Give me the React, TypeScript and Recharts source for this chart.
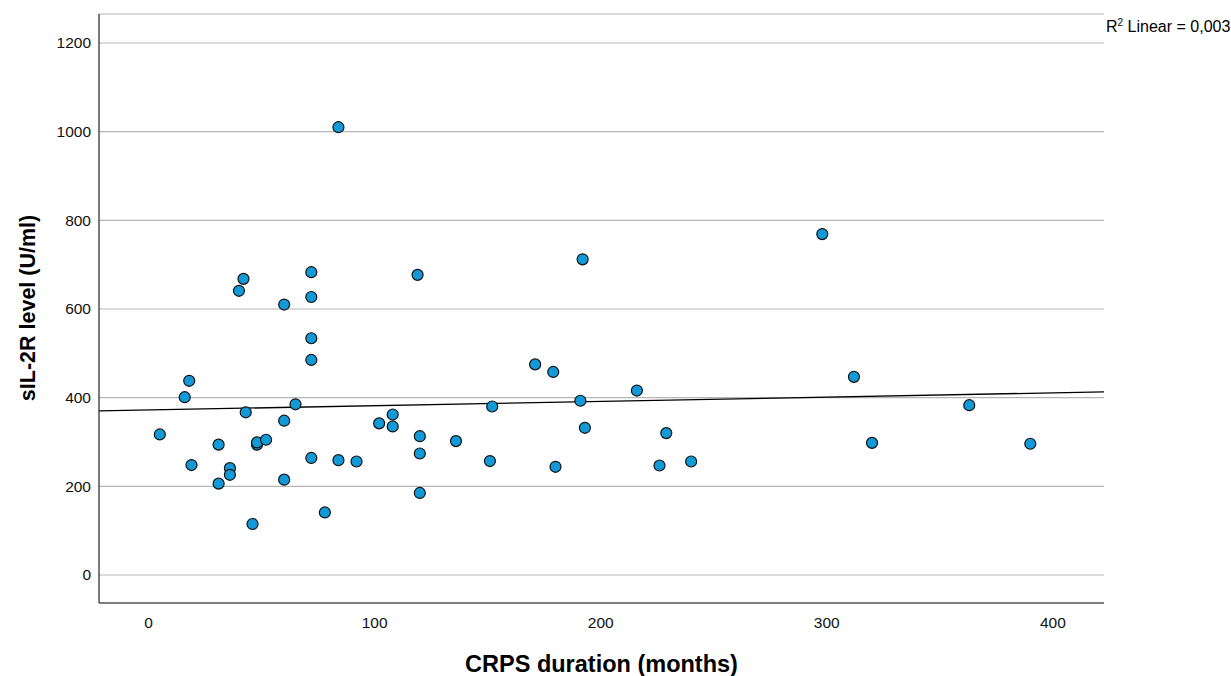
import React from "react";
import {
  ScatterChart,
  Scatter,
  XAxis,
  YAxis,
  CartesianGrid,
  ReferenceLine,
  Customized,
} from "recharts";

const durationMonths = [
  5, 16, 18, 19, 31, 31, 36, 36, 40, 42, 43, 46, 48, 48, 52, 60, 60, 60, 65,
  72, 72, 72, 72, 72, 78, 84, 84, 92, 102, 108, 108, 119, 120, 120, 120, 136,
  151, 152, 171, 179, 180, 191, 192, 193, 216, 226, 229, 240, 298, 312, 320,
  363, 390,
];
const sil2rLevel = [
  317, 401, 438, 248, 294, 206, 241, 226, 641, 668, 367, 115, 294, 299, 305,
  610, 348, 215, 385, 683, 627, 534, 485, 264, 141, 259, 1010, 256, 342, 362,
  335, 677, 313, 274, 185, 302, 257, 380, 475, 458, 244, 393, 712, 332, 416,
  247, 320, 256, 769, 447, 298, 383, 296,
];
const xTicks = [0, 100, 200, 300, 400];
const yTicks = [0, 200, 400, 600, 800, 1000, 1200];
const fitLine = [
  { x: -21.9, y: 370 },
  { x: 422.6, y: 413 },
];

const points = durationMonths.map((x, i) => ({ x, y: sil2rLevel[i] }));

const FONT = "'Liberation Sans', Arial, sans-serif";

const Dot = (props: any) => {
  const { cx, cy } = props;
  if (cx == null || cy == null) return null;
  return <circle cx={cx} cy={cy} r={5.5} fill="#1199d8" stroke="#111" strokeWidth={1.2} />;
};

const Titles = () => (
  <g fontFamily={FONT}>
    <text
      x={601.5}
      y={672}
      textAnchor="middle"
      fontSize={23.5}
      fontWeight="bold"
      fill="#000"
    >
      CRPS duration (months)
    </text>
    <text
      x={35}
      y={308}
      textAnchor="middle"
      fontSize={21.5}
      fontWeight="bold"
      fill="#000"
      transform="rotate(-90 35 308)"
    >
      sIL-2R level (U/ml)
    </text>
    <text x={1106} y={32} fontSize={16} fill="#000">
      R
      <tspan fontSize={10} dy={-6}>
        2
      </tspan>
      <tspan dy={6}>{"  Linear = 0,003"}</tspan>
    </text>
  </g>
);

export default function App() {
  return (
    <div style={{ position: "absolute", left: 0, top: 0, background: "#fff" }}>
      <ScatterChart
        width={1231}
        height={676}
        margin={{ top: 14, right: 127, bottom: 33, left: 0 }}
      >
        <CartesianGrid vertical={false} stroke="#b5b5b5" strokeWidth={1.2} />
        <XAxis
          type="number"
          dataKey="x"
          domain={[-21.9, 422.6]}
          ticks={xTicks}
          allowDataOverflow
          height={40}
          tickLine={false}
          tickMargin={8}
          axisLine={{ stroke: "#222", strokeWidth: 1.2 }}
          tick={{ fill: "#111", fontSize: 15.5, fontFamily: FONT }}
        />
        <YAxis
          type="number"
          dataKey="y"
          domain={[-63.2, 1265.4]}
          ticks={yTicks}
          allowDataOverflow
          width={99}
          tickLine={false}
          axisLine={{ stroke: "#222", strokeWidth: 1.2 }}
          tick={{ fill: "#111", fontSize: 15.5, fontFamily: FONT }}
        />
        <ReferenceLine
          segment={fitLine}
          stroke="#000"
          strokeWidth={1.3}
          ifOverflow="visible"
        />
        <Scatter data={points} shape={<Dot />} isAnimationActive={false} />
        <Customized component={Titles} />
      </ScatterChart>
    </div>
  );
}
